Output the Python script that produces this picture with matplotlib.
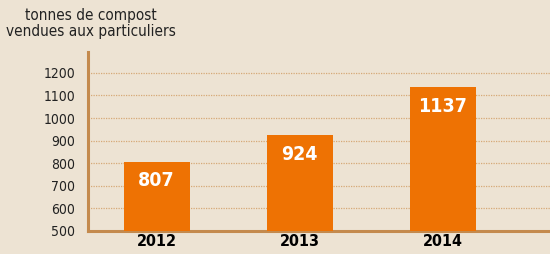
import matplotlib.pyplot as plt

years = ["2012", "2013", "2014"]
tonnes = [807, 924, 1137]
yticks = [500, 600, 700, 800, 900, 1000, 1100, 1200]

plt.rcParams['font.family'] = ['DejaVu Sans']
plt.rcParams['font.stretch'] = 'condensed'

bg = "#EDE3D3"
orange = "#EE7203"
tan = "#C48A4D"

fig = plt.figure(figsize=(5.5, 2.54), dpi=100, facecolor=bg)
ax = fig.add_axes([0.16, 0.0906, 0.84, 0.7054])
ax.set_facecolor(bg)

x = range(len(years))
bars = ax.bar(x, tonnes, width=0.46, color=orange, bottom=0, zorder=3)
ax.set_xlim(-0.48, 2.75)
ax.set_ylim(500, 1293)

for t in yticks[1:]:
    ax.axhline(t, color="#D6A977", lw=0.9, ls=(0, (1, 1)), zorder=1)

for b, v in zip(bars, tonnes):
    ax.annotate(str(v), (b.get_x() + b.get_width() / 2, v), xytext=(0, -7),
                textcoords="offset points", ha="center", va="top",
                color="white", fontsize=14, fontweight="bold", zorder=4)

ax.set_yticks(yticks)
ax.set_yticklabels([str(t) for t in yticks], fontsize=10)
ax.set_xticks(list(x))
ax.set_xticklabels(years, fontsize=11.5, fontweight="bold")
ax.tick_params(axis="y", length=0, pad=9, colors="#222222")
ax.tick_params(axis="x", length=0, pad=2)

for s in ["top", "right"]:
    ax.spines[s].set_visible(False)
ax.spines["left"].set_color(tan)
ax.spines["left"].set_linewidth(2.2)
ax.spines["bottom"].set_color(tan)
ax.spines["bottom"].set_linewidth(2.2)

fig.text(0.165, 0.97, "tonnes de compost\nvendues aux particuliers", ha="center", va="top",
         fontsize=11, color="#222222", linespacing=1.1)

fig.savefig("out.png", dpi=100, facecolor=bg)
